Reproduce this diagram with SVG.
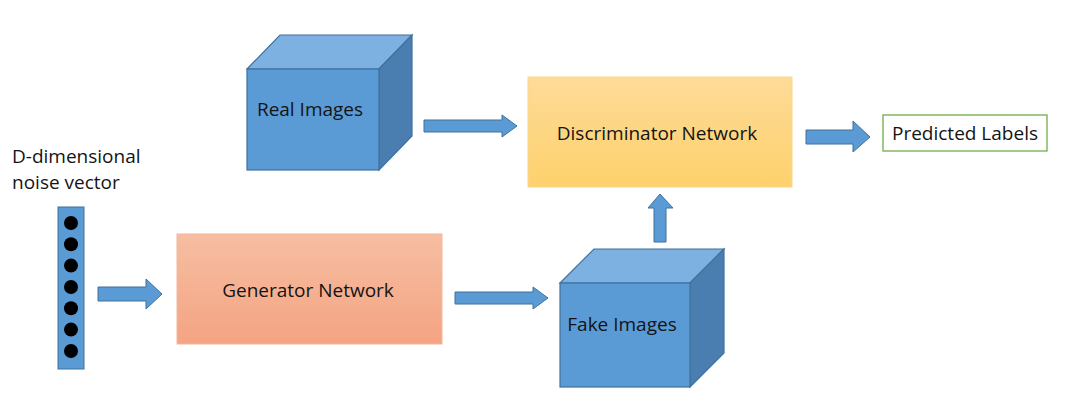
<svg xmlns="http://www.w3.org/2000/svg" width="1080" height="413" viewBox="0 0 1080 413">
<defs>
<linearGradient id="gOrange" x1="0" y1="0" x2="0" y2="1"><stop offset="0" stop-color="#F6BEA2"/><stop offset="1" stop-color="#F4A482"/></linearGradient>
<linearGradient id="gYellow" x1="0" y1="0" x2="0" y2="1"><stop offset="0" stop-color="#FEDB98"/><stop offset="1" stop-color="#FDD16C"/></linearGradient>
<style>
.t{font-family:"Open Sans","Liberation Sans",sans-serif;font-size:19px;fill:#141414}
.front{fill:#5B9BD5;stroke:#41719C;stroke-width:1.2}
.top{fill:#7DB1E2;stroke:#41719C;stroke-width:1.2}
.side{fill:#4A7DB0;stroke:#41719C;stroke-width:1.2}
.arr{fill:#5B9BD5;stroke:#41719C;stroke-width:1}
</style>
</defs>
<rect width="1080" height="413" fill="#fff"/>
<g id="noise">
<text class="t" x="12" y="163">D-dimensional</text>
<text class="t" x="12" y="189">noise vector</text>
<rect x="58" y="207" width="26" height="162" fill="#5B9BD5" stroke="#41719C" stroke-width="1"/>
<g fill="#000">
<circle cx="71" cy="223" r="7"/><circle cx="71" cy="244.3" r="7"/><circle cx="71" cy="265.6" r="7"/><circle cx="71" cy="287" r="7"/><circle cx="71" cy="308.3" r="7"/><circle cx="71" cy="329.6" r="7"/><circle cx="71" cy="351" r="7"/>
</g>
</g>
<g id="real">
<polygon class="top" points="247,69 280,35 412,35 379,69"/>
<polygon class="side" points="379,69 412,35 412,136 379,170"/>
<rect class="front" x="247" y="69" width="132" height="101"/>
<text class="t" x="310" y="116" text-anchor="middle">Real Images</text>
</g>
<g id="fake">
<polygon class="top" points="560,283 594,249 724,249 690,283"/>
<polygon class="side" points="690,283 724,249 724,353 690,387"/>
<rect class="front" x="560" y="283" width="130" height="104"/>
<text class="t" x="622" y="331" text-anchor="middle">Fake Images</text>
</g>
<g id="generator">
<rect x="177" y="234" width="265" height="110" fill="url(#gOrange)" stroke="#F4B79B" stroke-width="1"/>
<text class="t" x="308" y="297" text-anchor="middle">Generator Network</text>
</g>
<g id="discriminator">
<rect x="528" y="77" width="264" height="110" fill="url(#gYellow)" stroke="#F8D78A" stroke-width="1"/>
<text class="t" x="657" y="140" text-anchor="middle">Discriminator Network</text>
</g>
<g id="predicted">
<rect x="883" y="115" width="164" height="36" fill="#fff" stroke="#70AD47" stroke-width="1.3"/>
<text class="t" x="965" y="140" text-anchor="middle">Predicted Labels</text>
</g>
<g id="connectors">
<polygon class="arr" points="98,287 146,287 146,279 162,294 146,309 146,301 98,301"/>
<polygon class="arr" points="455,292 533,292 533,287 548,298 533,309 533,304 455,304"/>
<polygon class="arr" points="424,120 502,120 502,115 517,126 502,137 502,132 424,132"/>
<polygon class="arr" points="806,130 853,130 853,121 870,137 853,152 853,144 806,144"/>
<polygon class="arr" points="654,242 654,208 648,208 660,194 673,208 666,208 666,242"/>
</g>
</svg>
